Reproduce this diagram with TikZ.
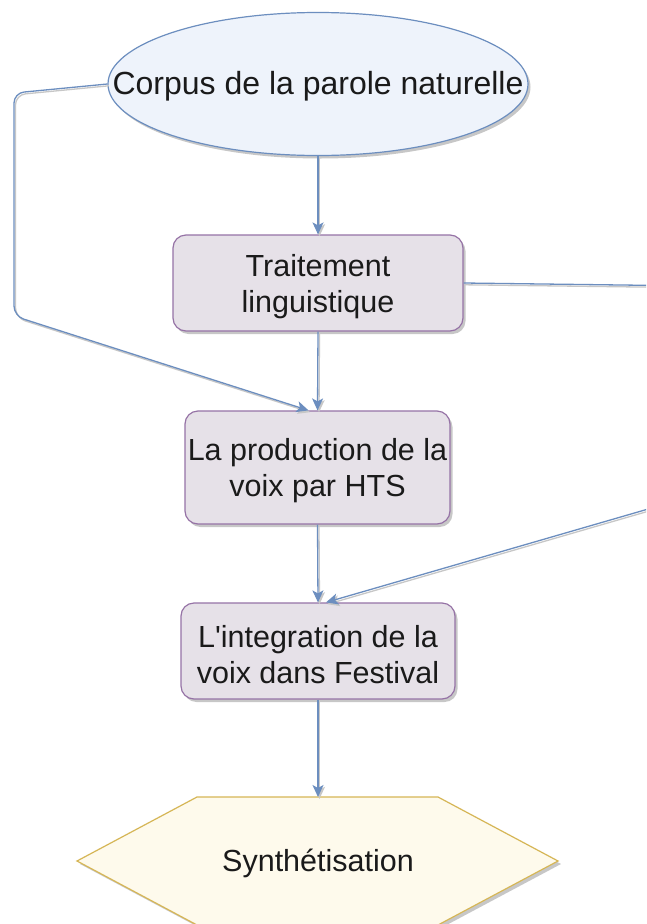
\documentclass[tikz,border=0pt]{standalone}
\usepackage{fontspec}
\setmainfont{Liberation Sans}
\usetikzlibrary{shapes.geometric,arrows.meta,shadows,calc}
\definecolor{linkblue}{HTML}{6C8EBF}
\definecolor{ellfill}{HTML}{EEF3FB}
\definecolor{boxfill}{HTML}{E6E1E8}
\definecolor{boxline}{HTML}{9673A6}
\definecolor{hexfill}{HTML}{FEFAEC}
\definecolor{hexline}{HTML}{D6B656}
\definecolor{txt}{HTML}{1A1A1A}
% invisible strut that lowers two-line labels slightly inside their boxes
\newcommand\labelstrut{\rule{0pt}{29pt}}
\tikzset{
  x=1pt, y=-1pt,
  soft shadow/.style={drop shadow={shadow xshift=2.5pt, shadow yshift=-3pt, opacity=0.22, fill=black}},
  label text/.style={text=txt, font=\fontsize{30.5}{36}\selectfont, align=center, inner sep=0pt},
  stepbox/.style={label text, draw=boxline, line width=1.2pt, fill=boxfill,
    rounded corners=13pt, soft shadow},
  startblob/.style={ellipse, draw=linkblue, line width=1.2pt, fill=ellfill,
    inner sep=0pt, soft shadow},
  link/.style={draw=linkblue, line width=1.3pt, rounded corners=10pt,
    -{Stealth[length=12pt,width=11pt,inset=3pt]},
    preaction={draw=black!22, line width=1.3pt,
      transform canvas={shift={(1.5pt,-1.8pt)}}}},
}
\begin{document}
\begin{tikzpicture}
\useasboundingbox (0,0) rectangle (646,924);
\clip (0,0) rectangle (646,924);
\fill[white] (0,0) rectangle (646,924);

% nodes
\node[startblob, minimum width=420pt, minimum height=143pt] (corpus) at (318,84) {};
\node[label text, font=\fontsize{32}{36}\selectfont, yshift=-2pt] (corpustext) at (corpus.center) {Corpus de la parole naturelle};
\node[stepbox, minimum width=290pt, minimum height=96pt] (ling) at (318,283) {\labelstrut Traitement\\linguistique};
\node[stepbox, minimum width=265pt, minimum height=113pt] (hts) at (317.5,467.5) {\labelstrut La production de la\\voix par HTS};
\node[stepbox, minimum width=274pt, minimum height=96pt] (fest) at (318,651) {\labelstrut L\textquotesingle integration de la\\voix dans Festival};

% output hexagon
\coordinate (hexT) at (318,797);
\fill[black, opacity=0.22, shift={(3pt,-3pt)}] (197,797) -- (438,797) -- (558,861) -- (438,925) -- (197,925) -- (77,861) -- cycle;
\filldraw[fill=hexfill, draw=hexline, line width=1.2pt] (197,797) -- (438,797) -- (558,861) -- (438,925) -- (197,925) -- (77,861) -- cycle;
\node[label text, yshift=-2.5pt] (synth) at (318,861) {Synthétisation};

% main flow
\draw[link] (corpus.south) -- (ling.north);
\draw[link] (ling.south) -- (hts.north);
\draw[link] (hts.south) -- (fest.north);
\draw[link] (fest.south) -- (hexT);

% side links
\coordinate (htsIn) at ($(hts.north)+(-9,0)$);
\coordinate (festIn) at ($(fest.north)+(8,0)$);
\coordinate (leftTop) at (14,93);
\coordinate (leftBot) at (14,316);
\coordinate (rightTop) at (700,286);
\coordinate (rightBot) at (700,494);
\draw[link] (corpus.west) -- (leftTop) -- (leftBot) -- (htsIn);
\draw[link] (ling.east) -- (rightTop) -- (rightBot) -- (festIn);
\end{tikzpicture}
\end{document}
